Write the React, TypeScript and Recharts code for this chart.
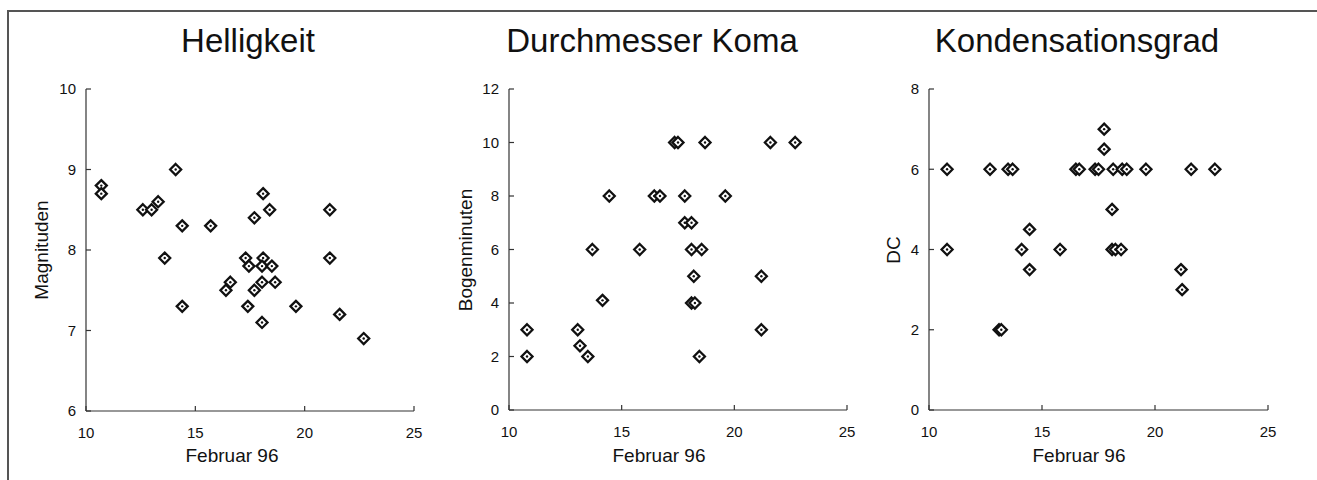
import React from 'react';
import { ScatterChart, Scatter, XAxis, YAxis } from 'recharts';

const FONT = '"Liberation Sans", Arial, Helvetica, sans-serif';

// X axis (days in February 1996) shared ticks
const dayTicks = [10, 15, 20, 25];

// Panel 1: Helligkeit (Magnituden)
const helligkeitDays = [10.7, 10.7, 12.6, 13.0, 13.3, 14.1, 14.4, 13.6, 14.4, 15.7, 16.4, 16.6, 17.3, 17.45, 17.4, 17.7, 17.7, 18.1, 18.1, 18.05, 18.5, 18.4, 18.05, 18.65, 18.05, 19.6, 21.15, 21.15, 21.6, 22.7];
const helligkeitMag = [8.8, 8.7, 8.5, 8.5, 8.6, 9.0, 8.3, 7.9, 7.3, 8.3, 7.5, 7.6, 7.9, 7.8, 7.3, 8.4, 7.5, 8.7, 7.9, 7.8, 7.8, 8.5, 7.6, 7.6, 7.1, 7.3, 8.5, 7.9, 7.2, 6.9];
const helligkeitTicks = [6, 7, 8, 9, 10];

// Panel 2: Durchmesser Koma (Bogenminuten)
const komaDays = [10.8, 10.8, 13.05, 13.15, 13.5, 13.7, 14.15, 14.45, 15.8, 16.45, 16.7, 17.35, 17.5, 17.8, 17.8, 18.1, 18.1, 18.55, 18.2, 18.1, 18.25, 18.45, 18.7, 19.6, 21.2, 21.2, 21.6, 22.7];
const komaArcmin = [3, 2, 3, 2.4, 2, 6, 4.1, 8, 6, 8, 8, 10, 10, 8, 7, 7, 6, 6, 5, 4, 4, 2, 10, 8, 5, 3, 10, 10];
const komaTicks = [0, 2, 4, 6, 8, 10, 12];

// Panel 3: Kondensationsgrad (DC)
const dcDays = [10.8, 10.8, 12.7, 13.5, 13.7, 13.1, 13.2, 14.1, 14.45, 14.45, 15.8, 16.5, 16.65, 17.35, 17.5, 17.75, 17.75, 18.15, 18.1, 18.1, 18.25, 18.5, 18.55, 18.75, 19.6, 21.15, 21.2, 21.6, 22.65];
const dcValues = [6, 4, 6, 6, 6, 2, 2, 4, 4.5, 3.5, 4, 6, 6, 6, 6, 7, 6.5, 6, 5, 4, 4, 4, 6, 6, 6, 3.5, 3, 6, 6];
const dcTicks = [0, 2, 4, 6, 8];

const toData = (xs: number[], ys: number[]) => xs.map((x, i) => ({ x, y: ys[i] }));

const Diamond = (props: any) => {
  const { cx, cy } = props;
  if (cx == null || cy == null) return null;
  const r = 5.5;
  return (
    <g>
      <path
        d={`M${cx},${cy - r}L${cx + r},${cy}L${cx},${cy + r}L${cx - r},${cy}Z`}
        fill="#fff"
        stroke="#111"
        strokeWidth={2.3}
      />
      <circle cx={cx} cy={cy} r={1.2} fill="#111" />
    </g>
  );
};

type PanelProps = {
  left: number;
  plotW: number;
  xAxisH: number;
  data: { x: number; y: number }[];
  yTicks: number[];
};

function Panel({ left, plotW, xAxisH, data, yTicks }: PanelProps) {
  const W = 80 + plotW + 20;
  const yDomain: [number, number] = [yTicks[0], yTicks[yTicks.length - 1]];
  const axisStroke = { stroke: '#333', strokeWidth: 1.2 };
  const tickStyle = { fill: '#111', fontSize: 15, fontFamily: FONT };
  return (
    <div style={{ position: 'absolute', left, top: 0 }}>
      <ScatterChart width={W} height={480} margin={{ top: 89, right: 20, bottom: 0, left: 20 }}>
        <XAxis
          xAxisId="b"
          type="number"
          dataKey="x"
          domain={[10, 25]}
          ticks={dayTicks}
          interval={0}
          height={xAxisH}
          tickSize={-5}
          tickMargin={21}
          fontSize={15}
          axisLine={axisStroke}
          tickLine={axisStroke}
          tick={tickStyle}
        />
        <XAxis
          xAxisId="t"
          orientation="top"
          type="number"
          domain={[10, 25]}
          height={0}
          tick={false}
          tickLine={false}
          axisLine={axisStroke}
        />
        <YAxis
          yAxisId="l"
          type="number"
          dataKey="y"
          domain={yDomain}
          ticks={yTicks}
          interval={0}
          width={60}
          tickSize={-5}
          tickMargin={15}
          fontSize={15}
          axisLine={axisStroke}
          tickLine={axisStroke}
          tick={tickStyle}
        />
        <YAxis
          yAxisId="r"
          orientation="right"
          type="number"
          domain={yDomain}
          width={0}
          tick={false}
          tickLine={false}
          axisLine={axisStroke}
        />
        <Scatter xAxisId="b" yAxisId="l" data={data} shape={Diamond} isAnimationActive={false} />
      </ScatterChart>
    </div>
  );
}

export default function App() {
  return (
    <div style={{ position: 'absolute', left: 0, top: 0, width: 1317, height: 480, background: '#fff', overflow: 'hidden' }}>
      <div
        style={{
          position: 'absolute',
          left: 7,
          top: 10,
          width: 1310,
          height: 470,
          borderLeft: '2px solid #555',
          borderTop: '2px solid #555',
          boxSizing: 'border-box',
        }}
      />
      <Panel left={6} plotW={328} xAxisH={69} data={toData(helligkeitDays, helligkeitMag)} yTicks={helligkeitTicks} />
      <Panel left={429} plotW={338} xAxisH={70} data={toData(komaDays, komaArcmin)} yTicks={komaTicks} />
      <Panel left={849} plotW={339} xAxisH={70} data={toData(dcDays, dcValues)} yTicks={dcTicks} />
      <svg width={1317} height={480} style={{ position: 'absolute', left: 0, top: 0, pointerEvents: 'none' }}>
        <g fontFamily={FONT} fill="#111">
          <text x={248} y={52} fontSize={33} textAnchor="middle">Helligkeit</text>
          <text x={652} y={52} fontSize={33} textAnchor="middle">Durchmesser Koma</text>
          <text x={1077} y={52} fontSize={33} textAnchor="middle">Kondensationsgrad</text>
          <text x={232} y={462} fontSize={19} textAnchor="middle">Februar 96</text>
          <text x={659} y={462} fontSize={19} textAnchor="middle">Februar 96</text>
          <text x={1079} y={462} fontSize={19} textAnchor="middle">Februar 96</text>
          <text x={48} y={250} fontSize={19} textAnchor="middle" transform="rotate(-90 48 250)">Magnituden</text>
          <text x={472} y={250} fontSize={19} textAnchor="middle" transform="rotate(-90 472 250)">Bogenminuten</text>
          <text x={900} y={250} fontSize={19} textAnchor="middle" transform="rotate(-90 900 250)">DC</text>
        </g>
      </svg>
    </div>
  );
}
